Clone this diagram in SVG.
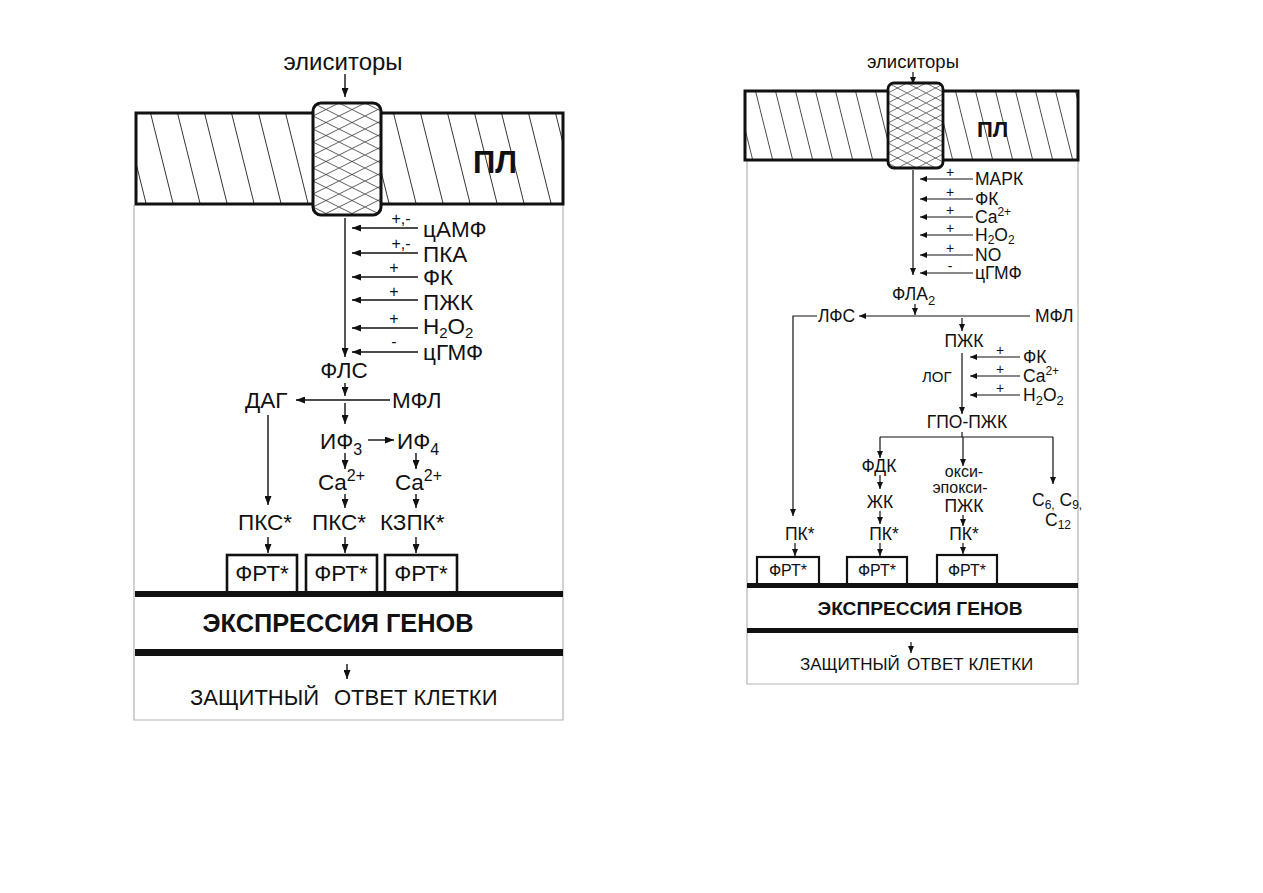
<svg xmlns="http://www.w3.org/2000/svg" width="1263" height="893" viewBox="0 0 1263 893">
<style>
text{font-family:"Liberation Sans",Arial,sans-serif;fill:#111}
.L{font-size:22.5px}
.Ls{font-size:16px}
.R{font-size:17.5px}
.Rs{font-size:14px}
.b{font-weight:bold}
.m{text-anchor:middle}
.c{fill:none;stroke:#111;stroke-width:1.4}
.cr{fill:none;stroke:#111;stroke-width:1.2}
.frame{fill:none;stroke:#b4b4b4;stroke-width:1.2}
.box{fill:#fff;stroke:#111;stroke-width:2.6}
.boxr{fill:#fff;stroke:#111;stroke-width:2.2}
.bar{fill:#111}
</style>
<defs>
<marker id="aL" markerUnits="userSpaceOnUse" markerWidth="9" markerHeight="7" refX="9" refY="3.5" orient="auto"><path d="M0,0 L9,3.5 L0,7 z" fill="#111"/></marker>
<marker id="aR" markerUnits="userSpaceOnUse" markerWidth="7" markerHeight="6" refX="7" refY="3" orient="auto"><path d="M0,0 L7,3 L0,6 z" fill="#111"/></marker>
<pattern id="hatchL" patternUnits="userSpaceOnUse" width="27" height="20" patternTransform="translate(150,113) skewX(14)"><line x1="0.5" y1="0" x2="0.5" y2="20" stroke="#222" stroke-width="0.9"/></pattern>
<pattern id="hatchR" patternUnits="userSpaceOnUse" width="20" height="20" patternTransform="translate(755,91) skewX(14)"><line x1="0.5" y1="0" x2="0.5" y2="20" stroke="#222" stroke-width="0.8"/></pattern>
<pattern id="crossL" patternUnits="userSpaceOnUse" width="26" height="13" x="313" y="103"><path d="M0,0 L26,13 M0,13 L26,0" stroke="#333" stroke-width="0.8" fill="none"/></pattern>
<pattern id="crossR" patternUnits="userSpaceOnUse" width="19" height="10" x="888" y="83"><path d="M0,0 L19,10 M0,10 L19,0" stroke="#333" stroke-width="0.7" fill="none"/></pattern>
</defs>
<rect width="1263" height="893" fill="#fff"/>

<!-- LEFT PANEL -->
<g id="left-frame"><path class="frame" d="M134,205 V720 H563 V205"/></g>
<g id="left-membrane">
<rect x="136" y="113" width="427" height="91" fill="url(#hatchL)" stroke="#111" stroke-width="3"/>
<text x="473" y="173" class="b" style="font-size:31px">ПЛ</text>
</g>
<g id="left-channel">
<rect x="313" y="103" width="68" height="112" rx="8" fill="#fff"/>
<rect x="313" y="103" width="68" height="112" rx="8" fill="url(#crossL)" stroke="#111" stroke-width="3"/>
</g>
<g id="left-elicitors"><text x="343" y="70" class="m" style="font-size:24px">элиситоры</text></g>
<g id="left-cAMP"><text x="423" y="237" class="L">цАМФ</text><text x="401" y="224" class="Ls m">+,-</text></g>
<g id="left-PKA"><text x="423" y="262" class="L">ПКА</text><text x="401" y="249" class="Ls m">+,-</text></g>
<g id="left-FK"><text x="423" y="285" class="L">ФК</text><text x="394" y="273" class="Ls m">+</text></g>
<g id="left-PZhK"><text x="423" y="310" class="L">ПЖК</text><text x="394" y="297" class="Ls m">+</text></g>
<g id="left-H2O2"><text x="423" y="334" class="L">H<tspan dy="4" style="font-size:15px">2</tspan><tspan dy="-4">O</tspan><tspan dy="4" style="font-size:15px">2</tspan></text><text x="394" y="324" class="Ls m">+</text></g>
<g id="left-cGMP"><text x="423" y="360" class="L">цГМФ</text><text x="394" y="347" class="Ls m">-</text></g>
<g id="left-FLS"><text x="344" y="378" class="L m">ФЛС</text></g>
<g id="left-DAG"><text x="245" y="408" class="L">ДАГ</text></g>
<g id="left-MFL"><text x="392" y="408" class="L">МФЛ</text></g>
<g id="left-IP3"><text x="320" y="449" class="L">ИФ<tspan dy="6" style="font-size:16px">3</tspan></text></g>
<g id="left-IP4"><text x="397" y="449" class="L">ИФ<tspan dy="6" style="font-size:16px">4</tspan></text></g>
<g id="left-Ca1"><text x="318" y="490" class="L">Ca<tspan dy="-9" style="font-size:16px">2+</tspan></text></g>
<g id="left-Ca2"><text x="395" y="490" class="L">Ca<tspan dy="-9" style="font-size:16px">2+</tspan></text></g>
<g id="left-PKC1"><text x="238" y="530" class="L">ПКС*</text></g>
<g id="left-PKC2"><text x="312" y="530" class="L">ПКС*</text></g>
<g id="left-KZPK"><text x="380" y="530" class="L">КЗПК*</text></g>
<g id="left-FRT1"><rect class="box" x="227" y="555" width="70" height="38"/><text x="262" y="581" class="L m">ФРТ*</text></g>
<g id="left-FRT2"><rect class="box" x="306" y="555" width="71" height="38"/><text x="341" y="581" class="L m">ФРТ*</text></g>
<g id="left-FRT3"><rect class="box" x="385" y="555" width="72" height="38"/><text x="421" y="581" class="L m">ФРТ*</text></g>
<g id="left-expression">
<rect class="bar" x="135" y="591" width="428" height="6"/>
<text x="338" y="632" class="b m" style="font-size:25px" textLength="271" lengthAdjust="spacingAndGlyphs">ЭКСПРЕССИЯ ГЕНОВ</text>
<rect class="bar" x="135" y="649" width="428" height="7"/>
</g>
<g id="left-response"><text y="705" style="font-size:22px"><tspan x="190">ЗАЩИТНЫЙ</tspan><tspan x="334">ОТВЕТ КЛЕТКИ</tspan></text></g>

<g id="left-connectors">
<line class="c" x1="345" y1="74" x2="345" y2="97" marker-end="url(#aL)"/>
<line class="c" x1="345" y1="218" x2="345" y2="357" marker-end="url(#aL)"/>
<line class="c" x1="418" y1="228" x2="352" y2="228" marker-end="url(#aL)"/>
<line class="c" x1="418" y1="253" x2="352" y2="253" marker-end="url(#aL)"/>
<line class="c" x1="418" y1="277" x2="352" y2="277" marker-end="url(#aL)"/>
<line class="c" x1="418" y1="300" x2="352" y2="300" marker-end="url(#aL)"/>
<line class="c" x1="418" y1="328" x2="352" y2="328" marker-end="url(#aL)"/>
<line class="c" x1="418" y1="352" x2="352" y2="352" marker-end="url(#aL)"/>
<line class="c" x1="345" y1="383" x2="345" y2="396" marker-end="url(#aL)"/>
<line class="c" x1="390" y1="400" x2="296" y2="400" marker-end="url(#aL)"/>
<line class="c" x1="345" y1="403" x2="345" y2="424" marker-end="url(#aL)"/>
<line class="c" x1="368" y1="440" x2="394" y2="440" marker-end="url(#aL)"/>
<line class="c" x1="345" y1="453" x2="345" y2="469" marker-end="url(#aL)"/>
<line class="c" x1="416" y1="453" x2="416" y2="469" marker-end="url(#aL)"/>
<line class="c" x1="345" y1="494" x2="345" y2="508" marker-end="url(#aL)"/>
<line class="c" x1="416" y1="494" x2="416" y2="508" marker-end="url(#aL)"/>
<line class="c" x1="268" y1="415" x2="268" y2="505" marker-end="url(#aL)"/>
<line class="c" x1="268" y1="537" x2="268" y2="553" marker-end="url(#aL)"/>
<line class="c" x1="345" y1="537" x2="345" y2="553" marker-end="url(#aL)"/>
<line class="c" x1="416" y1="537" x2="416" y2="553" marker-end="url(#aL)"/>
<line class="c" x1="347" y1="664" x2="347" y2="679" marker-end="url(#aL)"/>
</g>

<!-- RIGHT PANEL -->
<g id="right-frame"><path class="frame" d="M747,160 V684 H1078 V160"/></g>
<g id="right-membrane">
<rect x="745" y="91" width="333" height="69" fill="url(#hatchR)" stroke="#111" stroke-width="3"/>
<text x="977" y="137" class="b" style="font-size:22px">ПЛ</text>
</g>
<g id="right-channel">
<rect x="888" y="83" width="55" height="85" rx="6" fill="#fff"/>
<rect x="888" y="83" width="55" height="85" rx="6" fill="url(#crossR)" stroke="#111" stroke-width="2.8"/>
</g>
<g id="right-elicitors"><text x="913" y="68" class="m" style="font-size:18.5px">элиситоры</text></g>
<g id="right-MAPK"><text x="975" y="185" class="R">МАРК</text><text x="950" y="177" class="Rs m">+</text></g>
<g id="right-FK"><text x="975" y="205" class="R">ФК</text><text x="950" y="197" class="Rs m">+</text></g>
<g id="right-Ca"><text x="975" y="223" class="R">Ca<tspan dy="-7" style="font-size:12px">2+</tspan></text><text x="950" y="215" class="Rs m">+</text></g>
<g id="right-H2O2"><text x="975" y="241" class="R">H<tspan dy="3" style="font-size:12px">2</tspan><tspan dy="-3">O</tspan><tspan dy="3" style="font-size:12px">2</tspan></text><text x="950" y="233" class="Rs m">+</text></g>
<g id="right-NO"><text x="975" y="261" class="R">NO</text><text x="950" y="253" class="Rs m">+</text></g>
<g id="right-cGMP"><text x="975" y="279" class="R">цГМФ</text><text x="950" y="271" class="Rs m">-</text></g>
<g id="right-FLA2"><text x="892" y="300" class="R">ФЛА<tspan dy="5" style="font-size:13px">2</tspan></text></g>
<g id="right-LFS"><text x="818" y="322" class="R">ЛФС</text></g>
<g id="right-MFL"><text x="1035" y="322" class="R">МФЛ</text></g>
<g id="right-PZhK"><text x="964" y="347" class="R m">ПЖК</text></g>
<g id="right-LOG"><text x="922" y="382" style="font-size:15px">ЛОГ</text></g>
<g id="right-FK2"><text x="1023" y="363" class="R">ФК</text><text x="1000" y="355" class="Rs m">+</text></g>
<g id="right-Ca2"><text x="1023" y="382" class="R">Ca<tspan dy="-7" style="font-size:12px">2+</tspan></text><text x="1000" y="374" class="Rs m">+</text></g>
<g id="right-H2O2b"><text x="1023" y="401" class="R">H<tspan dy="4" style="font-size:13px">2</tspan><tspan dy="-4">O</tspan><tspan dy="4" style="font-size:13px">2</tspan></text><text x="1000" y="393" class="Rs m">+</text></g>
<g id="right-GPO"><text x="967" y="428" class="R m">ГПО-ПЖК</text></g>
<g id="right-FDK"><text x="879" y="472" class="R m">ФДК</text></g>
<g id="right-ZhK"><text x="880" y="508" class="R m">ЖК</text></g>
<g id="right-oxy"><text x="964" y="477" class="m" style="font-size:16px">окси-</text><text x="960" y="493" class="m" style="font-size:16px">эпокси-</text><text x="964" y="512" class="R m">ПЖК</text></g>
<g id="right-C"><text x="1032" y="506" class="R">C<tspan dy="3" style="font-size:12px">6,</tspan><tspan dy="-3"> C</tspan><tspan dy="3" style="font-size:12px">9,</tspan></text><text x="1045" y="526" class="R">C<tspan dy="3" style="font-size:12px">12</tspan></text></g>
<g id="right-PK1"><text x="785" y="540" class="R">ПК*</text></g>
<g id="right-PK2"><text x="884" y="540" class="R m">ПК*</text></g>
<g id="right-PK3"><text x="964" y="540" class="R m">ПК*</text></g>
<g id="right-FRT1"><rect class="boxr" x="757" y="557" width="62" height="28"/><text x="788" y="576" class="m" style="font-size:16px">ФРТ*</text></g>
<g id="right-FRT2"><rect class="boxr" x="847" y="557" width="60" height="28"/><text x="877" y="576" class="m" style="font-size:16px">ФРТ*</text></g>
<g id="right-FRT3"><rect class="boxr" x="937" y="555" width="60" height="30"/><text x="967" y="576" class="m" style="font-size:16px">ФРТ*</text></g>
<g id="right-expression">
<rect class="bar" x="747" y="583" width="331" height="5"/>
<text x="920" y="615" class="b m" style="font-size:19px" textLength="205" lengthAdjust="spacingAndGlyphs">ЭКСПРЕССИЯ ГЕНОВ</text>
<rect class="bar" x="747" y="628" width="331" height="5"/>
</g>
<g id="right-response"><text y="670" style="font-size:17px"><tspan x="800">ЗАЩИТНЫЙ</tspan><tspan x="907">ОТВЕТ КЛЕТКИ</tspan></text></g>

<g id="right-connectors">
<line class="cr" x1="913" y1="72" x2="913" y2="84" marker-end="url(#aR)"/>
<line class="cr" x1="913" y1="170" x2="913" y2="275" marker-end="url(#aR)"/>
<line class="cr" x1="973" y1="179" x2="920" y2="179" marker-end="url(#aR)"/>
<line class="cr" x1="973" y1="199" x2="920" y2="199" marker-end="url(#aR)"/>
<line class="cr" x1="973" y1="217" x2="920" y2="217" marker-end="url(#aR)"/>
<line class="cr" x1="973" y1="235" x2="920" y2="235" marker-end="url(#aR)"/>
<line class="cr" x1="973" y1="255" x2="920" y2="255" marker-end="url(#aR)"/>
<line class="cr" x1="973" y1="273" x2="920" y2="273" marker-end="url(#aR)"/>
<line class="cr" x1="915" y1="304" x2="915" y2="315" marker-end="url(#aR)"/>
<line class="cr" x1="1030" y1="316" x2="859" y2="316" marker-end="url(#aR)"/>
<path class="cr" d="M817,316 H793 V516" marker-end="url(#aR)"/>
<line class="cr" x1="962" y1="318" x2="962" y2="331" marker-end="url(#aR)"/>
<line class="cr" x1="962" y1="353" x2="962" y2="414" marker-end="url(#aR)"/>
<line class="cr" x1="1020" y1="357" x2="970" y2="357" marker-end="url(#aR)"/>
<line class="cr" x1="1020" y1="376" x2="970" y2="376" marker-end="url(#aR)"/>
<line class="cr" x1="1020" y1="395" x2="970" y2="395" marker-end="url(#aR)"/>
<path class="cr" d="M962,432 V437 M880,437 H1053"/>
<line class="cr" x1="880" y1="437" x2="880" y2="458" marker-end="url(#aR)"/>
<line class="cr" x1="963" y1="437" x2="963" y2="466" marker-end="url(#aR)"/>
<line class="cr" x1="1053" y1="437" x2="1053" y2="484" marker-end="url(#aR)"/>
<line class="cr" x1="880" y1="475" x2="880" y2="489" marker-end="url(#aR)"/>
<line class="cr" x1="880" y1="511" x2="880" y2="524" marker-end="url(#aR)"/>
<line class="cr" x1="963" y1="515" x2="963" y2="526" marker-end="url(#aR)"/>
<line class="cr" x1="795" y1="543" x2="795" y2="556" marker-end="url(#aR)"/>
<line class="cr" x1="880" y1="543" x2="880" y2="556" marker-end="url(#aR)"/>
<line class="cr" x1="963" y1="543" x2="963" y2="554" marker-end="url(#aR)"/>
<line class="cr" x1="911" y1="642" x2="911" y2="653" marker-end="url(#aR)"/>
</g>
</svg>
